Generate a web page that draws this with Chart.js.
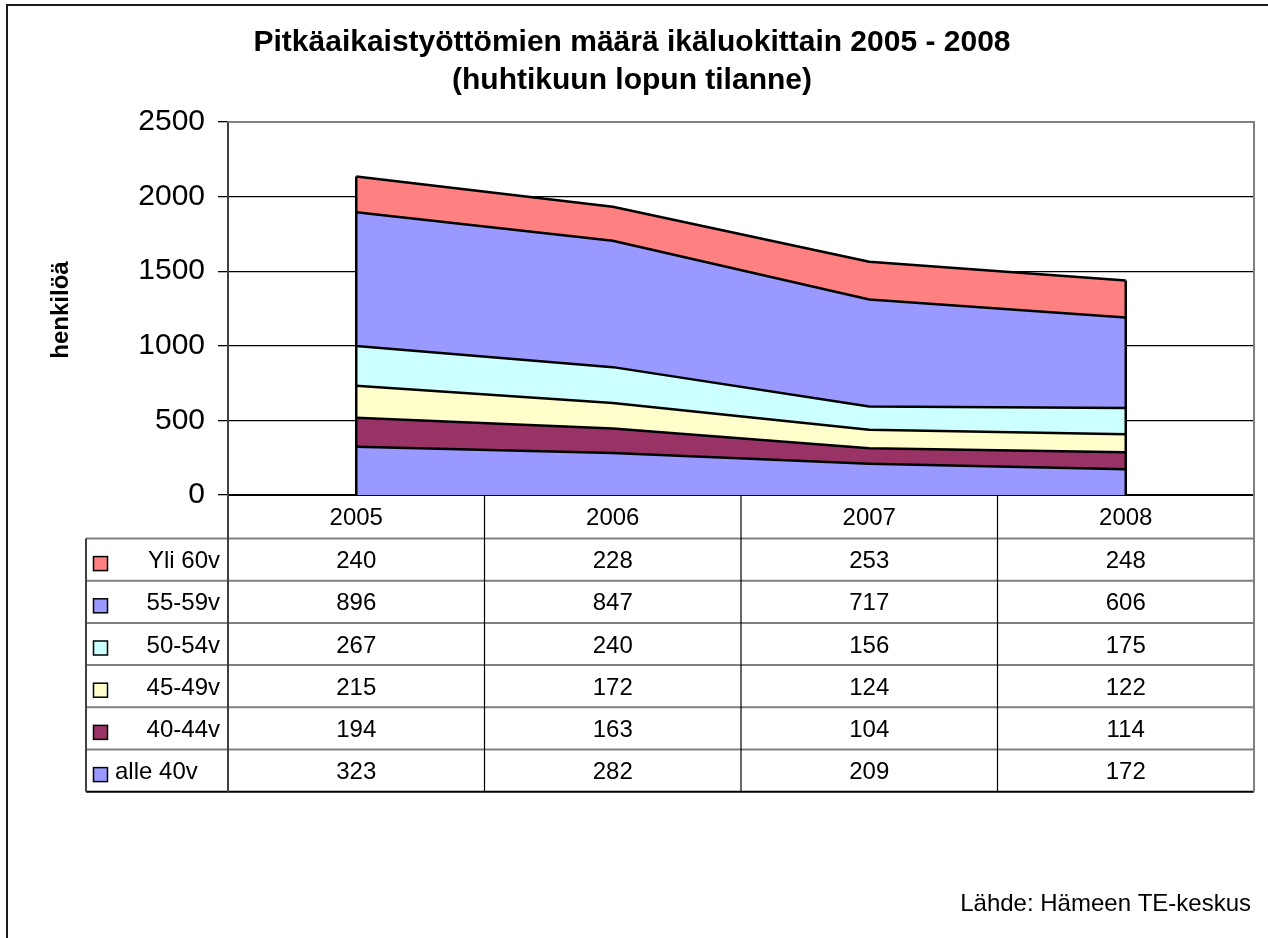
<!DOCTYPE html>
<html><head><meta charset="utf-8">
<script src="https://cdn.jsdelivr.net/npm/chart.js@4.4.1/dist/chart.umd.min.js"></script>
<style>html,body{margin:0;padding:0;background:#fff}#wrap{width:1268px;height:938px;position:relative}</style>
</head><body><div id="wrap"><canvas id="c"></canvas></div>
<script>
const categories = ['2005', '2006', '2007', '2008'];
const seriesNames = ['alle 40v', '40-44v', '45-49v', '50-54v', '55-59v', 'Yli 60v'];
const alle40 = [323, 282, 209, 172];
const v40_44 = [194, 163, 104, 114];
const v45_49 = [215, 172, 124, 122];
const v50_54 = [267, 240, 156, 175];
const v55_59 = [896, 847, 717, 606];
const yli60 = [240, 228, 253, 248];
const yTicks = [0, 500, 1000, 1500, 2000, 2500];
const colors = ['#9999FF', '#993366', '#FFFFCC', '#CCFFFF', '#9999FF', '#FF8080'];
const titleLines = ['Pitkäaikaistyöttömien määrä ikäluokittain 2005 - 2008', '(huhtikuun lopun tilanne)'];
const yTitle = 'henkilöä';
const sourceText = 'Lähde: Hämeen TE-keskus';

const seriesValues = [alle40, v40_44, v45_49, v50_54, v55_59, yli60];
const FONT = '"Liberation Sans", Arial, sans-serif';

const datasets = seriesValues.map((vals, i) => ({
  label: seriesNames[i],
  data: vals,
  backgroundColor: colors[i],
  borderColor: '#000',
  borderWidth: 2.5,
  pointRadius: 0,
  tension: 0,
  fill: i === 0 ? 'origin' : '-1'
}));

const decor = {
  id: 'decor',
  afterDraw(chart) {
    const ctx = chart.ctx;
    const ca = chart.chartArea;
    const xs = chart.scales.x, ys = chart.scales.y;
    ctx.save();
    // outer border
    ctx.strokeStyle = '#1a1a1a'; ctx.lineWidth = 2;
    ctx.beginPath(); ctx.moveTo(7, 940); ctx.lineTo(7, 5); ctx.lineTo(1270, 5); ctx.stroke();

    // titles
    ctx.fillStyle = '#000';
    ctx.textAlign = 'center'; ctx.textBaseline = 'middle';
    ctx.font = 'bold 30px ' + FONT;
    ctx.fillText(titleLines[0], 632, 43);
    ctx.fillText(titleLines[1], 632, 81);

    // y title
    ctx.save();
    ctx.translate(61, 310); ctx.rotate(-Math.PI / 2);
    ctx.font = 'bold 24px ' + FONT;
    ctx.fillText(yTitle, 0, 0);
    ctx.restore();

    // vertical edges of stacked area
    const n = categories.length;
    const totals = categories.map((c, i) => seriesValues.reduce((s, a) => s + a[i], 0));
    ctx.strokeStyle = '#000'; ctx.lineWidth = 2.5;
    [0, n - 1].forEach(i => {
      const x = xs.getPixelForValue(i);
      ctx.beginPath(); ctx.moveTo(x, ys.getPixelForValue(0)); ctx.lineTo(x, ys.getPixelForValue(totals[i])); ctx.stroke();
    });

    // plot top/right border
    ctx.strokeStyle = '#808080'; ctx.lineWidth = 2;
    ctx.beginPath(); ctx.moveTo(ca.left, ca.top); ctx.lineTo(ca.right, ca.top); ctx.lineTo(ca.right, ca.bottom); ctx.stroke();

    // data table
    const half = (xs.getPixelForValue(1) - xs.getPixelForValue(0)) / 2;
    const left = 86;
    const hTop = ca.bottom, hBot = hTop + 43.5, rowH = 42.2;
    const nRows = seriesNames.length;
    const tBot = hBot + rowH * nRows;

    ctx.strokeStyle = '#808080'; ctx.lineWidth = 2;
    for (let r = 0; r < nRows; r++) {
      const y = hBot + rowH * r;
      ctx.beginPath(); ctx.moveTo(left, y); ctx.lineTo(ca.right, y); ctx.stroke();
    }
    ctx.strokeStyle = '#000'; ctx.lineWidth = 2;
    ctx.beginPath(); ctx.moveTo(left, tBot); ctx.lineTo(ca.right, tBot); ctx.stroke();
    ctx.strokeStyle = '#404040'; ctx.lineWidth = 2;
    ctx.beginPath(); ctx.moveTo(left, hBot); ctx.lineTo(left, tBot); ctx.stroke();
    ctx.beginPath(); ctx.moveTo(ca.left, hTop); ctx.lineTo(ca.left, tBot); ctx.stroke();
    ctx.strokeStyle = '#000'; ctx.lineWidth = 1.2;
    for (let i = 1; i < n; i++) {
      const x = xs.getPixelForValue(i) - half;
      ctx.beginPath(); ctx.moveTo(x, hTop); ctx.lineTo(x, tBot); ctx.stroke();
    }
    ctx.strokeStyle = '#808080'; ctx.lineWidth = 2;
    ctx.beginPath(); ctx.moveTo(ca.right, hTop); ctx.lineTo(ca.right, tBot); ctx.stroke();

    // header
    ctx.fillStyle = '#000';
    ctx.font = '24px ' + FONT;
    ctx.textAlign = 'center'; ctx.textBaseline = 'middle';
    categories.forEach((c, i) => ctx.fillText(c, xs.getPixelForValue(i), (hTop + hBot) / 2 + 2));

    // rows
    for (let r = 0; r < nRows; r++) {
      const d = nRows - 1 - r;
      const yc = hBot + rowH * (r + 0.5);
      ctx.fillStyle = colors[d];
      ctx.fillRect(93.5, yc - 3, 14, 14);
      ctx.strokeStyle = '#000'; ctx.lineWidth = 1.5;
      ctx.strokeRect(93.5, yc - 3, 14, 14);
      ctx.fillStyle = '#000';
      if (r < nRows - 1) { ctx.textAlign = 'right'; ctx.fillText(seriesNames[d], 220, yc + 2); }
      else { ctx.textAlign = 'left'; ctx.fillText(seriesNames[d], 115, yc + 2); }
      ctx.textAlign = 'center';
      seriesValues[d].forEach((v, i) => ctx.fillText(String(v), xs.getPixelForValue(i), yc + 2));
    }

    // source
    ctx.textAlign = 'right';
    ctx.fillText(sourceText, 1251, 904);
    ctx.restore();
  }
};

new Chart(document.getElementById('c'), {
  type: 'line',
  data: { labels: categories, datasets },
  options: {
    responsive: true, maintainAspectRatio: false, animation: false,
    layout: { padding: { left: 128, right: 14, top: 122, bottom: 443 } },
    plugins: { legend: { display: false }, tooltip: { enabled: false }, title: { display: false } },
    elements: { line: { borderJoinStyle: 'round' } },
    scales: {
      x: {
        type: 'category', offset: true,
        grid: { display: false },
        ticks: { display: false },
        border: { display: true, color: '#000', width: 2 },
        afterFit: s => { s.height = 0; }
      },
      y: {
        stacked: true, min: 0, max: 2500,
        afterBuildTicks: s => { s.ticks = yTicks.map(v => ({ value: v })); },
        ticks: { color: '#000', padding: 13, font: { family: FONT, size: 30 }, callback: v => String(v) },
        grid: {
          color: c => (c.tick && c.tick.value === 2500) ? '#808080' : '#000',
          lineWidth: 1.3, tickLength: 10, tickColor: '#000'
        },
        border: { display: true, color: '#404040', width: 2 },
        afterFit: s => { s.width = 100; }
      }
    }
  },
  plugins: [decor]
});
</script></body></html>
